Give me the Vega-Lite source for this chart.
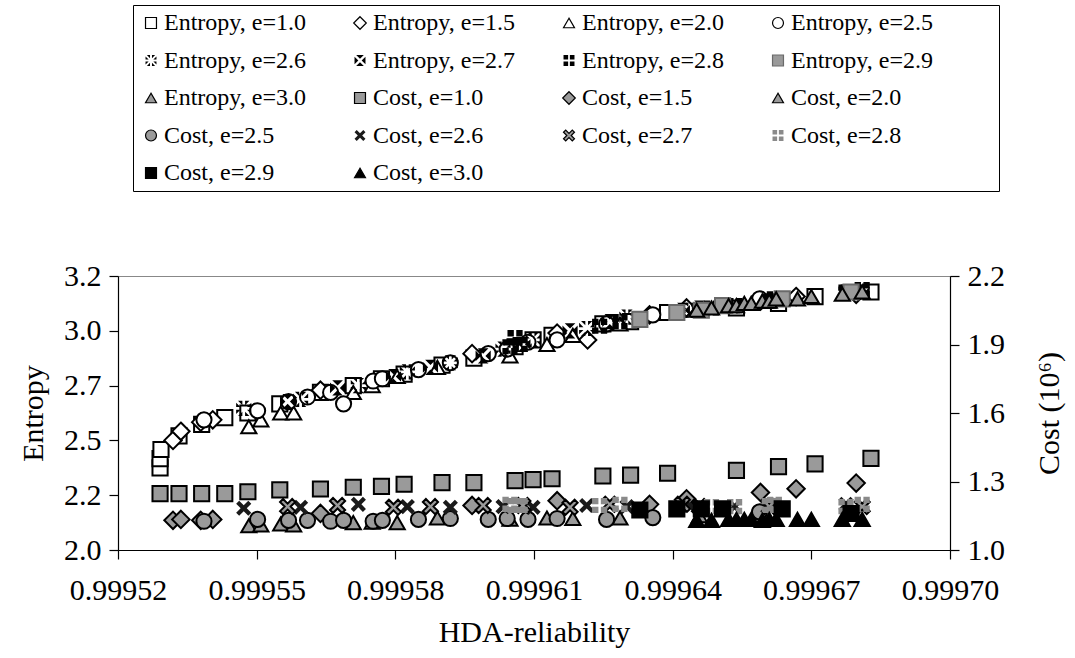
{
  "$schema": "https://vega.github.io/schema/vega-lite/v6.json",
  "width": 832,
  "height": 274,
  "autosize": {"type": "none"},
  "padding": {"left": 118, "top": 276, "right": 125, "bottom": 108},
  "background": "white",
  "config": {
    "font": "Liberation Serif, Times New Roman, serif",
    "view": {"stroke": "#888", "strokeWidth": 1},
    "axis": {
      "labelFont": "Liberation Serif, Times New Roman, serif", "labelFontSize": 30, "labelColor": "black",
      "titleFont": "Liberation Serif, Times New Roman, serif", "titleFontSize": 30, "titleFontWeight": "normal", "titleColor": "black",
      "domainColor": "black", "domainWidth": 1.2, "tickColor": "black", "tickWidth": 1.2, "tickSize": 9,
      "grid": false, "labelPadding": 8, "labelOverlap": false
    },
    "legend": {
      "orient": "none", "direction": "horizontal", "columns": 4, "gridAlign": "each",
      "columnPadding": 42, "rowPadding": 13.5, "padding": 6,
      "labelFont": "Liberation Serif, Times New Roman, serif", "labelFontSize": 24, "labelColor": "black", "labelLimit": 0,
      "symbolSize": 120, "symbolStrokeWidth": 1.2, "symbolOffset": 0, "labelOffset": 1, "strokeColor": "black"
    }
  },
  "data": {
    "values": [
      {"s": "Entropy, e=1.0", "x": 0.9995291, "v": 2.36},
      {"s": "Entropy, e=1.0", "x": 0.9995291, "v": 2.40},
      {"s": "Entropy, e=1.0", "x": 0.9995293, "v": 2.44},
      {"s": "Entropy, e=1.0", "x": 0.9995332, "v": 2.50},
      {"s": "Entropy, e=1.0", "x": 0.9995381, "v": 2.55},
      {"s": "Entropy, e=1.0", "x": 0.9995431, "v": 2.58},
      {"s": "Entropy, e=1.0", "x": 0.9995481, "v": 2.60},
      {"s": "Entropy, e=1.0", "x": 0.9995550, "v": 2.64},
      {"s": "Entropy, e=1.0", "x": 0.9995638, "v": 2.69},
      {"s": "Entropy, e=1.0", "x": 0.9995709, "v": 2.72},
      {"s": "Entropy, e=1.0", "x": 0.9995770, "v": 2.75},
      {"s": "Entropy, e=1.0", "x": 0.9995819, "v": 2.77},
      {"s": "Entropy, e=1.0", "x": 0.9995901, "v": 2.81},
      {"s": "Entropy, e=1.0", "x": 0.9995970, "v": 2.84},
      {"s": "Entropy, e=1.0", "x": 0.9996059, "v": 2.89},
      {"s": "Entropy, e=1.0", "x": 0.9996098, "v": 2.92},
      {"s": "Entropy, e=1.0", "x": 0.9996139, "v": 2.94},
      {"s": "Entropy, e=1.0", "x": 0.9996249, "v": 2.99},
      {"s": "Entropy, e=1.0", "x": 0.9996309, "v": 3.00},
      {"s": "Entropy, e=1.0", "x": 0.9996389, "v": 3.04},
      {"s": "Entropy, e=1.0", "x": 0.9996538, "v": 3.06},
      {"s": "Entropy, e=1.0", "x": 0.9996629, "v": 3.08},
      {"s": "Entropy, e=1.0", "x": 0.9996708, "v": 3.11},
      {"s": "Entropy, e=1.0", "x": 0.9996829, "v": 3.13},

      {"s": "Entropy, e=1.5", "x": 0.9995319, "v": 2.48},
      {"s": "Entropy, e=1.5", "x": 0.9995336, "v": 2.52},
      {"s": "Entropy, e=1.5", "x": 0.9995379, "v": 2.56},
      {"s": "Entropy, e=1.5", "x": 0.9995405, "v": 2.57},
      {"s": "Entropy, e=1.5", "x": 0.9995638, "v": 2.70},
      {"s": "Entropy, e=1.5", "x": 0.9995966, "v": 2.86},
      {"s": "Entropy, e=1.5", "x": 0.9996150, "v": 2.95},
      {"s": "Entropy, e=1.5", "x": 0.9996216, "v": 2.92},
      {"s": "Entropy, e=1.5", "x": 0.9996350, "v": 3.03},
      {"s": "Entropy, e=1.5", "x": 0.9996430, "v": 3.06},
      {"s": "Entropy, e=1.5", "x": 0.9996590, "v": 3.09},
      {"s": "Entropy, e=1.5", "x": 0.9996667, "v": 3.11},
      {"s": "Entropy, e=1.5", "x": 0.9996797, "v": 3.12},

      {"s": "Entropy, e=2.0", "x": 0.9995483, "v": 2.54},
      {"s": "Entropy, e=2.0", "x": 0.9995509, "v": 2.57},
      {"s": "Entropy, e=2.0", "x": 0.9995552, "v": 2.60},
      {"s": "Entropy, e=2.0", "x": 0.9995580, "v": 2.60},
      {"s": "Entropy, e=2.0", "x": 0.9995709, "v": 2.69},
      {"s": "Entropy, e=2.0", "x": 0.9995750, "v": 2.72},
      {"s": "Entropy, e=2.0", "x": 0.9995804, "v": 2.76},
      {"s": "Entropy, e=2.0", "x": 0.9995891, "v": 2.80},
      {"s": "Entropy, e=2.0", "x": 0.9996048, "v": 2.85},
      {"s": "Entropy, e=2.0", "x": 0.9996128, "v": 2.90},
      {"s": "Entropy, e=2.0", "x": 0.9996184, "v": 2.94},
      {"s": "Entropy, e=2.0", "x": 0.9996286, "v": 2.99},
      {"s": "Entropy, e=2.0", "x": 0.9996458, "v": 3.05},

      {"s": "Entropy, e=2.5", "x": 0.9995386, "v": 2.57},
      {"s": "Entropy, e=2.5", "x": 0.9995502, "v": 2.61},
      {"s": "Entropy, e=2.5", "x": 0.9995569, "v": 2.65},
      {"s": "Entropy, e=2.5", "x": 0.9995610, "v": 2.67},
      {"s": "Entropy, e=2.5", "x": 0.9995660, "v": 2.69},
      {"s": "Entropy, e=2.5", "x": 0.9995688, "v": 2.64},
      {"s": "Entropy, e=2.5", "x": 0.9995752, "v": 2.74},
      {"s": "Entropy, e=2.5", "x": 0.9995772, "v": 2.75},
      {"s": "Entropy, e=2.5", "x": 0.9995850, "v": 2.79},
      {"s": "Entropy, e=2.5", "x": 0.9995919, "v": 2.82},
      {"s": "Entropy, e=2.5", "x": 0.9996001, "v": 2.86},
      {"s": "Entropy, e=2.5", "x": 0.9996042, "v": 2.88},
      {"s": "Entropy, e=2.5", "x": 0.9996087, "v": 2.91},
      {"s": "Entropy, e=2.5", "x": 0.9996150, "v": 2.92},
      {"s": "Entropy, e=2.5", "x": 0.9996257, "v": 2.99},
      {"s": "Entropy, e=2.5", "x": 0.9996357, "v": 3.03},
      {"s": "Entropy, e=2.5", "x": 0.9996588, "v": 3.10},

      {"s": "Entropy, e=2.6", "x": 0.9995472, "v": 2.62},
      {"s": "Entropy, e=2.6", "x": 0.9995595, "v": 2.66},
      {"s": "Entropy, e=2.6", "x": 0.9995720, "v": 2.72},
      {"s": "Entropy, e=2.6", "x": 0.9995826, "v": 2.78},
      {"s": "Entropy, e=2.6", "x": 0.9995919, "v": 2.82},
      {"s": "Entropy, e=2.6", "x": 0.9996033, "v": 2.88},
      {"s": "Entropy, e=2.6", "x": 0.9996098, "v": 2.92},
      {"s": "Entropy, e=2.6", "x": 0.9996214, "v": 2.97},
      {"s": "Entropy, e=2.6", "x": 0.9996301, "v": 3.02},
      {"s": "Entropy, e=2.6", "x": 0.9996437, "v": 3.05},
      {"s": "Entropy, e=2.6", "x": 0.9996534, "v": 3.07},
      {"s": "Entropy, e=2.6", "x": 0.9996775, "v": 3.13},

      {"s": "Entropy, e=2.7", "x": 0.9995567, "v": 2.65},
      {"s": "Entropy, e=2.7", "x": 0.9995675, "v": 2.71},
      {"s": "Entropy, e=2.7", "x": 0.9995796, "v": 2.76},
      {"s": "Entropy, e=2.7", "x": 0.9995876, "v": 2.80},
      {"s": "Entropy, e=2.7", "x": 0.9995990, "v": 2.85},
      {"s": "Entropy, e=2.7", "x": 0.9996076, "v": 2.90},
      {"s": "Entropy, e=2.7", "x": 0.9996178, "v": 2.96},
      {"s": "Entropy, e=2.7", "x": 0.9996264, "v": 3.00},
      {"s": "Entropy, e=2.7", "x": 0.9996421, "v": 3.05},
      {"s": "Entropy, e=2.7", "x": 0.9996458, "v": 3.06},
      {"s": "Entropy, e=2.7", "x": 0.9996609, "v": 3.09},
      {"s": "Entropy, e=2.7", "x": 0.9996810, "v": 3.13},

      {"s": "Entropy, e=2.8", "x": 0.9996048, "v": 2.89},
      {"s": "Entropy, e=2.8", "x": 0.9996059, "v": 2.93},
      {"s": "Entropy, e=2.8", "x": 0.9996070, "v": 2.90},
      {"s": "Entropy, e=2.8", "x": 0.9996242, "v": 2.98},
      {"s": "Entropy, e=2.8", "x": 0.9996286, "v": 3.00},
      {"s": "Entropy, e=2.8", "x": 0.9996484, "v": 3.06},
      {"s": "Entropy, e=2.8", "x": 0.9996534, "v": 3.07},
      {"s": "Entropy, e=2.8", "x": 0.9996609, "v": 3.09},
      {"s": "Entropy, e=2.8", "x": 0.9996620, "v": 3.10},
      {"s": "Entropy, e=2.8", "x": 0.9996775, "v": 3.13},
      {"s": "Entropy, e=2.8", "x": 0.9996810, "v": 3.14},

      {"s": "Entropy, e=2.9", "x": 0.9996329, "v": 3.01},
      {"s": "Entropy, e=2.9", "x": 0.9996409, "v": 3.04},
      {"s": "Entropy, e=2.9", "x": 0.9996462, "v": 3.05},
      {"s": "Entropy, e=2.9", "x": 0.9996508, "v": 3.07},
      {"s": "Entropy, e=2.9", "x": 0.9996637, "v": 3.10},
      {"s": "Entropy, e=2.9", "x": 0.9996786, "v": 3.13},

      {"s": "Entropy, e=3.0", "x": 0.9996452, "v": 3.05},
      {"s": "Entropy, e=3.0", "x": 0.9996484, "v": 3.06},
      {"s": "Entropy, e=3.0", "x": 0.9996521, "v": 3.07},
      {"s": "Entropy, e=3.0", "x": 0.9996538, "v": 3.07},
      {"s": "Entropy, e=3.0", "x": 0.9996555, "v": 3.08},
      {"s": "Entropy, e=3.0", "x": 0.9996570, "v": 3.08},
      {"s": "Entropy, e=3.0", "x": 0.9996594, "v": 3.09},
      {"s": "Entropy, e=3.0", "x": 0.9996609, "v": 3.09},
      {"s": "Entropy, e=3.0", "x": 0.9996624, "v": 3.10},
      {"s": "Entropy, e=3.0", "x": 0.9996670, "v": 3.10},
      {"s": "Entropy, e=3.0", "x": 0.9996700, "v": 3.11},
      {"s": "Entropy, e=3.0", "x": 0.9996767, "v": 3.12},
      {"s": "Entropy, e=3.0", "x": 0.9996810, "v": 3.13},

      {"s": "Cost, e=1.0", "x": 0.9995291, "v": 1.247},
      {"s": "Cost, e=1.0", "x": 0.9995332, "v": 1.247},
      {"s": "Cost, e=1.0", "x": 0.9995381, "v": 1.247},
      {"s": "Cost, e=1.0", "x": 0.9995431, "v": 1.247},
      {"s": "Cost, e=1.0", "x": 0.9995481, "v": 1.255},
      {"s": "Cost, e=1.0", "x": 0.9995550, "v": 1.263},
      {"s": "Cost, e=1.0", "x": 0.9995638, "v": 1.267},
      {"s": "Cost, e=1.0", "x": 0.9995709, "v": 1.275},
      {"s": "Cost, e=1.0", "x": 0.9995770, "v": 1.279},
      {"s": "Cost, e=1.0", "x": 0.9995819, "v": 1.288},
      {"s": "Cost, e=1.0", "x": 0.9995901, "v": 1.295},
      {"s": "Cost, e=1.0", "x": 0.9995970, "v": 1.295},
      {"s": "Cost, e=1.0", "x": 0.9996059, "v": 1.304},
      {"s": "Cost, e=1.0", "x": 0.9996098, "v": 1.308},
      {"s": "Cost, e=1.0", "x": 0.9996139, "v": 1.312},
      {"s": "Cost, e=1.0", "x": 0.9996249, "v": 1.324},
      {"s": "Cost, e=1.0", "x": 0.9996309, "v": 1.328},
      {"s": "Cost, e=1.0", "x": 0.9996389, "v": 1.336},
      {"s": "Cost, e=1.0", "x": 0.9996538, "v": 1.349},
      {"s": "Cost, e=1.0", "x": 0.9996629, "v": 1.365},
      {"s": "Cost, e=1.0", "x": 0.9996708, "v": 1.377},
      {"s": "Cost, e=1.0", "x": 0.9996829, "v": 1.401},

      {"s": "Cost, e=1.5", "x": 0.9995319, "v": 1.130},
      {"s": "Cost, e=1.5", "x": 0.9995336, "v": 1.134},
      {"s": "Cost, e=1.5", "x": 0.9995379, "v": 1.130},
      {"s": "Cost, e=1.5", "x": 0.9995405, "v": 1.134},
      {"s": "Cost, e=1.5", "x": 0.9995638, "v": 1.160},
      {"s": "Cost, e=1.5", "x": 0.9995966, "v": 1.195},
      {"s": "Cost, e=1.5", "x": 0.9996150, "v": 1.216},
      {"s": "Cost, e=1.5", "x": 0.9996350, "v": 1.200},
      {"s": "Cost, e=1.5", "x": 0.9996430, "v": 1.224},
      {"s": "Cost, e=1.5", "x": 0.9996590, "v": 1.252},
      {"s": "Cost, e=1.5", "x": 0.9996667, "v": 1.268},
      {"s": "Cost, e=1.5", "x": 0.9996797, "v": 1.293},

      {"s": "Cost, e=2.0", "x": 0.9995483, "v": 1.106},
      {"s": "Cost, e=2.0", "x": 0.9995509, "v": 1.110},
      {"s": "Cost, e=2.0", "x": 0.9995552, "v": 1.114},
      {"s": "Cost, e=2.0", "x": 0.9995580, "v": 1.110},
      {"s": "Cost, e=2.0", "x": 0.9995709, "v": 1.120},
      {"s": "Cost, e=2.0", "x": 0.9995750, "v": 1.122},
      {"s": "Cost, e=2.0", "x": 0.9995804, "v": 1.120},
      {"s": "Cost, e=2.0", "x": 0.9995891, "v": 1.140},
      {"s": "Cost, e=2.0", "x": 0.9996048, "v": 1.135},
      {"s": "Cost, e=2.0", "x": 0.9996128, "v": 1.140},
      {"s": "Cost, e=2.0", "x": 0.9996184, "v": 1.138},
      {"s": "Cost, e=2.0", "x": 0.9996286, "v": 1.140},
      {"s": "Cost, e=2.0", "x": 0.9996458, "v": 1.150},

      {"s": "Cost, e=2.5", "x": 0.9995386, "v": 1.126},
      {"s": "Cost, e=2.5", "x": 0.9995502, "v": 1.134},
      {"s": "Cost, e=2.5", "x": 0.9995569, "v": 1.130},
      {"s": "Cost, e=2.5", "x": 0.9995610, "v": 1.130},
      {"s": "Cost, e=2.5", "x": 0.9995660, "v": 1.126},
      {"s": "Cost, e=2.5", "x": 0.9995688, "v": 1.130},
      {"s": "Cost, e=2.5", "x": 0.9995752, "v": 1.126},
      {"s": "Cost, e=2.5", "x": 0.9995772, "v": 1.130},
      {"s": "Cost, e=2.5", "x": 0.9995850, "v": 1.134},
      {"s": "Cost, e=2.5", "x": 0.9995919, "v": 1.138},
      {"s": "Cost, e=2.5", "x": 0.9996001, "v": 1.134},
      {"s": "Cost, e=2.5", "x": 0.9996042, "v": 1.138},
      {"s": "Cost, e=2.5", "x": 0.9996087, "v": 1.134},
      {"s": "Cost, e=2.5", "x": 0.9996150, "v": 1.138},
      {"s": "Cost, e=2.5", "x": 0.9996257, "v": 1.134},
      {"s": "Cost, e=2.5", "x": 0.9996357, "v": 1.142},
      {"s": "Cost, e=2.5", "x": 0.9996588, "v": 1.167},

      {"s": "Cost, e=2.6", "x": 0.9995472, "v": 1.183},
      {"s": "Cost, e=2.6", "x": 0.9995595, "v": 1.187},
      {"s": "Cost, e=2.6", "x": 0.9995720, "v": 1.200},
      {"s": "Cost, e=2.6", "x": 0.9995826, "v": 1.190},
      {"s": "Cost, e=2.6", "x": 0.9995919, "v": 1.187},
      {"s": "Cost, e=2.6", "x": 0.9996033, "v": 1.190},
      {"s": "Cost, e=2.6", "x": 0.9996098, "v": 1.187},
      {"s": "Cost, e=2.6", "x": 0.9996214, "v": 1.195},
      {"s": "Cost, e=2.6", "x": 0.9996301, "v": 1.190},
      {"s": "Cost, e=2.6", "x": 0.9996437, "v": 1.195},
      {"s": "Cost, e=2.6", "x": 0.9996534, "v": 1.190},
      {"s": "Cost, e=2.6", "x": 0.9996775, "v": 1.200},

      {"s": "Cost, e=2.7", "x": 0.9995567, "v": 1.190},
      {"s": "Cost, e=2.7", "x": 0.9995675, "v": 1.195},
      {"s": "Cost, e=2.7", "x": 0.9995796, "v": 1.187},
      {"s": "Cost, e=2.7", "x": 0.9995876, "v": 1.190},
      {"s": "Cost, e=2.7", "x": 0.9995990, "v": 1.195},
      {"s": "Cost, e=2.7", "x": 0.9996076, "v": 1.195},
      {"s": "Cost, e=2.7", "x": 0.9996178, "v": 1.187},
      {"s": "Cost, e=2.7", "x": 0.9996264, "v": 1.200},
      {"s": "Cost, e=2.7", "x": 0.9996421, "v": 1.200},
      {"s": "Cost, e=2.7", "x": 0.9996458, "v": 1.190},
      {"s": "Cost, e=2.7", "x": 0.9996609, "v": 1.190},
      {"s": "Cost, e=2.7", "x": 0.9996810, "v": 1.190},

      {"s": "Cost, e=2.8", "x": 0.9996048, "v": 1.200},
      {"s": "Cost, e=2.8", "x": 0.9996059, "v": 1.195},
      {"s": "Cost, e=2.8", "x": 0.9996070, "v": 1.195},
      {"s": "Cost, e=2.8", "x": 0.9996242, "v": 1.195},
      {"s": "Cost, e=2.8", "x": 0.9996286, "v": 1.200},
      {"s": "Cost, e=2.8", "x": 0.9996484, "v": 1.190},
      {"s": "Cost, e=2.8", "x": 0.9996534, "v": 1.190},
      {"s": "Cost, e=2.8", "x": 0.9996609, "v": 1.195},
      {"s": "Cost, e=2.8", "x": 0.9996620, "v": 1.200},
      {"s": "Cost, e=2.8", "x": 0.9996775, "v": 1.190},
      {"s": "Cost, e=2.8", "x": 0.9996810, "v": 1.200},

      {"s": "Cost, e=2.9", "x": 0.9996329, "v": 1.175},
      {"s": "Cost, e=2.9", "x": 0.9996409, "v": 1.180},
      {"s": "Cost, e=2.9", "x": 0.9996462, "v": 1.180},
      {"s": "Cost, e=2.9", "x": 0.9996508, "v": 1.180},
      {"s": "Cost, e=2.9", "x": 0.9996637, "v": 1.180},
      {"s": "Cost, e=2.9", "x": 0.9996786, "v": 1.160},

      {"s": "Cost, e=3.0", "x": 0.9996452, "v": 1.130},
      {"s": "Cost, e=3.0", "x": 0.9996484, "v": 1.130},
      {"s": "Cost, e=3.0", "x": 0.9996521, "v": 1.134},
      {"s": "Cost, e=3.0", "x": 0.9996538, "v": 1.134},
      {"s": "Cost, e=3.0", "x": 0.9996555, "v": 1.134},
      {"s": "Cost, e=3.0", "x": 0.9996570, "v": 1.134},
      {"s": "Cost, e=3.0", "x": 0.9996594, "v": 1.130},
      {"s": "Cost, e=3.0", "x": 0.9996609, "v": 1.134},
      {"s": "Cost, e=3.0", "x": 0.9996624, "v": 1.134},
      {"s": "Cost, e=3.0", "x": 0.9996670, "v": 1.134},
      {"s": "Cost, e=3.0", "x": 0.9996700, "v": 1.134},
      {"s": "Cost, e=3.0", "x": 0.9996767, "v": 1.134},
      {"s": "Cost, e=3.0", "x": 0.9996810, "v": 1.134}
    ]
  },
  "encoding": {
    "x": {
      "field": "x", "type": "quantitative",
      "scale": {"domain": [0.99952, 0.9997], "nice": false, "zero": false},
      "axis": {
        "title": "HDA-reliability",
        "values": [0.99952, 0.99955, 0.99958, 0.99961, 0.99964, 0.99967, 0.9997],
        "format": ".5f", "labelFlush": false, "labelPadding": 16, "titlePadding": 12
      }
    },
    "shape": {
      "field": "s", "type": "nominal",
      "scale": {
        "domain": ["Entropy, e=1.0", "Entropy, e=1.5", "Entropy, e=2.0", "Entropy, e=2.5", "Entropy, e=2.6", "Entropy, e=2.7", "Entropy, e=2.8", "Entropy, e=2.9", "Entropy, e=3.0", "Cost, e=1.0", "Cost, e=1.5", "Cost, e=2.0", "Cost, e=2.5", "Cost, e=2.6", "Cost, e=2.7", "Cost, e=2.8", "Cost, e=2.9", "Cost, e=3.0"],
        "range": [
          "square",
          "M0,-1.15L1.15,0L0,1.15L-1.15,0Z",
          "triangle-up",
          "circle",
          "M0.18,-1L0.75,-1L0.18,-0.43Z M1,-0.18L1,-0.75L0.43,-0.18Z M-0.18,-1L-0.75,-1L-0.18,-0.43Z M-1,-0.18L-1,-0.75L-0.43,-0.18Z M0.18,1L0.75,1L0.18,0.43Z M1,0.18L1,0.75L0.43,0.18Z M-0.18,1L-0.75,1L-0.18,0.43Z M-1,0.18L-1,0.75L-0.43,0.18Z",
          "M-0.7,-1L0.7,-1L0,-0.3Z M1,-0.7L1,0.7L0.3,0Z M0.7,1L-0.7,1L0,0.3Z M-1,0.7L-1,-0.7L-0.3,0Z",
          "M-1,-1H-0.16V-0.16H-1Z M0.16,-1H1V-0.16H0.16Z M-1,0.16H-0.16V1H-1Z M0.16,0.16H1V1H0.16Z",
          "square",
          "triangle-up",
          "square",
          "M0,-1.15L1.15,0L0,1.15L-1.15,0Z",
          "triangle-up",
          "circle",
          "M-1,-0.6L-0.6,-1L0,-0.4L0.6,-1L1,-0.6L0.4,0L1,0.6L0.6,1L0,0.4L-0.6,1L-1,0.6L-0.4,0Z",
          "M-1,-0.6L-0.6,-1L0,-0.4L0.6,-1L1,-0.6L0.4,0L1,0.6L0.6,1L0,0.4L-0.6,1L-1,0.6L-0.4,0Z",
          "M-1,-1H-0.16V-0.16H-1Z M0.16,-1H1V-0.16H0.16Z M-1,0.16H-0.16V1H-1Z M0.16,0.16H1V1H0.16Z",
          "square",
          "triangle-up"
        ]
      },
      "legend": {
        "title": null, "orient": "none", "direction": "horizontal", "legendX": 15, "legendY": -271, "columns": 4,
        "labelExpr": "indexof(['Entropy, e=2.5', 'Entropy, e=2.9', 'Cost, e=2.0', 'Cost, e=2.8'], datum.label) >= 0 ? datum.label + '\u00a0\u00a0\u00a0\u00a0\u00a0\u00a0\u00a0\u00a0\u00a0\u00a0\u200b' : datum.label"
      }
    },
    "fill": {
      "field": "s", "type": "nominal",
      "scale": {
        "domain": ["Entropy, e=1.0", "Entropy, e=1.5", "Entropy, e=2.0", "Entropy, e=2.5", "Entropy, e=2.6", "Entropy, e=2.7", "Entropy, e=2.8", "Entropy, e=2.9", "Entropy, e=3.0", "Cost, e=1.0", "Cost, e=1.5", "Cost, e=2.0", "Cost, e=2.5", "Cost, e=2.6", "Cost, e=2.7", "Cost, e=2.8", "Cost, e=2.9", "Cost, e=3.0"],
        "range": ["white", "white", "white", "white", "black", "black", "black", "#9a9a9a", "#9a9a9a", "#9a9a9a", "#9a9a9a", "#9a9a9a", "#9a9a9a", "#1a1a1a", "#9a9a9a", "#8a8a8a", "black", "black"]
      },
      "legend": {
        "title": null, "orient": "none", "direction": "horizontal", "legendX": 15, "legendY": -271, "columns": 4,
        "labelExpr": "indexof(['Entropy, e=2.5', 'Entropy, e=2.9', 'Cost, e=2.0', 'Cost, e=2.8'], datum.label) >= 0 ? datum.label + '\u00a0\u00a0\u00a0\u00a0\u00a0\u00a0\u00a0\u00a0\u00a0\u00a0\u200b' : datum.label"
      }
    },
    "stroke": {
      "field": "s", "type": "nominal",
      "scale": {
        "domain": ["Entropy, e=1.0", "Entropy, e=1.5", "Entropy, e=2.0", "Entropy, e=2.5", "Entropy, e=2.6", "Entropy, e=2.7", "Entropy, e=2.8", "Entropy, e=2.9", "Entropy, e=3.0", "Cost, e=1.0", "Cost, e=1.5", "Cost, e=2.0", "Cost, e=2.5", "Cost, e=2.6", "Cost, e=2.7", "Cost, e=2.8", "Cost, e=2.9", "Cost, e=3.0"],
        "range": ["black", "black", "black", "black", "transparent", "transparent", "transparent", "#6a6a6a", "black", "black", "black", "black", "black", "transparent", "black", "transparent", "black", "black"]
      },
      "legend": {
        "title": null, "orient": "none", "direction": "horizontal", "legendX": 15, "legendY": -271, "columns": 4,
        "labelExpr": "indexof(['Entropy, e=2.5', 'Entropy, e=2.9', 'Cost, e=2.0', 'Cost, e=2.8'], datum.label) >= 0 ? datum.label + '\u00a0\u00a0\u00a0\u00a0\u00a0\u00a0\u00a0\u00a0\u00a0\u00a0\u200b' : datum.label"
      }
    }
  },
  "layer": [
    {
      "transform": [{"filter": "indexof(datum.s, 'Entropy') === 0"}],
      "mark": {"type": "point", "size": 230, "strokeWidth": 2, "opacity": 1},
      "encoding": {
        "y": {
          "field": "v", "type": "quantitative",
          "scale": {"domain": [2.0, 3.2], "nice": false, "zero": false},
          "axis": {"title": "Entropy", "values": [2.0, 2.24, 2.48, 2.72, 2.96, 3.2], "format": ".1f", "titlePadding": 15}
        }
      }
    },
    {
      "transform": [{"filter": "indexof(datum.s, 'Cost') === 0"}],
      "mark": {"type": "point", "size": 230, "strokeWidth": 2, "opacity": 1},
      "encoding": {
        "y": {
          "field": "v", "type": "quantitative",
          "scale": {"domain": [1.0, 2.2], "nice": false, "zero": false},
          "axis": {"orient": "right", "title": "Cost (10⁶)", "values": [1.0, 1.3, 1.6, 1.9, 2.2], "format": ".1f", "titleAngle": 270, "titleBaseline": "top", "titlePadding": 30}
        }
      }
    }
  ],
  "resolve": {"scale": {"y": "independent"}}
}
